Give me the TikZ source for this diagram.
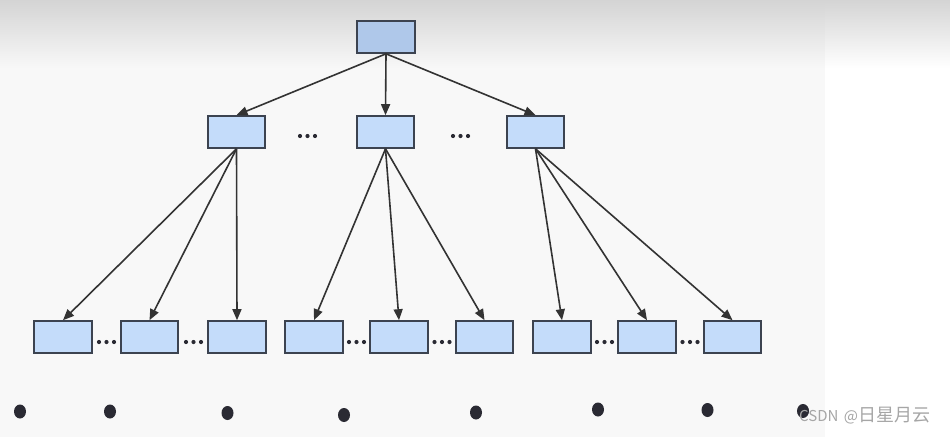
\documentclass[tikz,border=0pt]{standalone}
\usepackage{fontspec}
\newfontfamily\cjk{Noto Sans CJK SC}
\usetikzlibrary{arrows.meta}
\definecolor{boxfill}{HTML}{C4DCFA}
\definecolor{topfill}{HTML}{AFC8EA}
\definecolor{boxline}{HTML}{3C4350}
\definecolor{arrowcol}{HTML}{333333}
\definecolor{dotcol}{HTML}{2A2A33}
\definecolor{offwhite}{HTML}{F8F8F8}
\definecolor{topgray}{HTML}{D4D4D4}
\tikzset{
  box/.style={rectangle, draw=boxline, fill=boxfill, line width=1.6pt, minimum width=57.5pt, minimum height=32pt, inner sep=0pt},
  topbox/.style={box, fill=topfill},
  arr/.style={draw=arrowcol, line width=1.6pt, -{Triangle[length=11pt,width=9pt]}},
}
\begin{document}
\begin{tikzpicture}[x=1pt,y=-1pt]
\useasboundingbox (0,0) rectangle (950,437);
% background
\fill[white] (0,0) rectangle (950,437);
\fill[offwhite] (0,0) rectangle (825,437);
\shade[top color=topgray, bottom color=offwhite] (0,0) rectangle (825,68);
\shade[top color=topgray, bottom color=white] (825,0) rectangle (950,68);
% nodes
\node[topbox] (r) at (386,37) {};
\node[box] (a) at (236.5,132) {};
\node[box] (b) at (385.5,132) {};
\node[box] (c) at (535.5,132) {};
\node[box] (a1) at (63,337) {};
\node[box] (a2) at (149.5,337) {};
\node[box] (a3) at (237,337) {};
\node[box] (b1) at (314,337) {};
\node[box] (b2) at (399,337) {};
\node[box] (b3) at (484.5,337) {};
\node[box] (c1) at (562,337) {};
\node[box] (c2) at (647,337) {};
\node[box] (c3) at (732.5,337) {};
% arrows
\foreach \t in {a,b,c} \draw[arr] (r.south) -- (\t.north);
\foreach \t in {a1,a2,a3} \draw[arr] (a.south) -- (\t.north);
\foreach \t in {b1,b2,b3} \draw[arr] (b.south) -- (\t.north);
\foreach \t in {c1,c2,c3} \draw[arr] (c.south) -- (\t.north);
% ellipsis dots
\foreach \cx/\cy in {307.5/136, 460.5/136, 106.5/342, 193.5/342, 356.5/342, 442/342, 604.5/342, 690/342} {
  \foreach \dx in {-7.5,0,7.5} \fill[dotcol] (\cx+\dx,\cy) circle (2.1pt);
}
% bottom dots
\foreach \px/\py in {20/411.5, 110/411.5, 227.5/413, 344/415, 476/412.5, 598/409.5, 707.5/410, 803/411}
  \fill[dotcol] (\px,\py) ellipse (6pt and 7pt);
% watermark
\node[anchor=west, inner sep=0pt, text=gray!70, font=\cjk] (wm) at (799,416) {{\fontsize{15pt}{15pt}\selectfont CSDN\hspace{2pt} @}{\fontsize{18pt}{18pt}\selectfont 日星月云}};
\end{tikzpicture}
\end{document}
